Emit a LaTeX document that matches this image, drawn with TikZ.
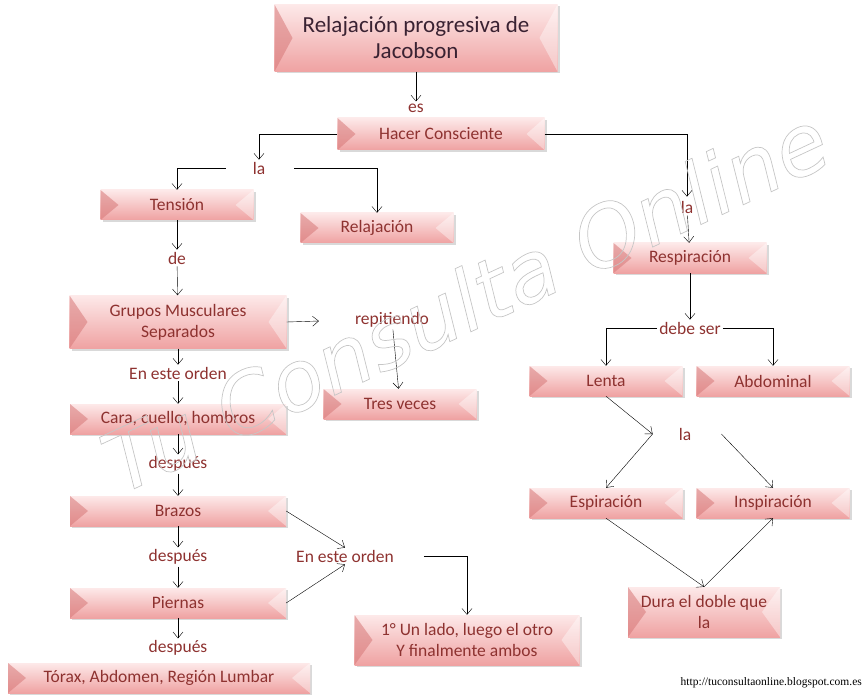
\documentclass[tikz,border=0pt]{standalone}
\usepackage{fontspec}
\newfontfamily\boxfont{Carlito}
\newfontfamily\urlfont{Liberation Serif}
\newfontfamily\wmfont{DejaVu Sans}
\usetikzlibrary{shadows,arrows.meta}
\definecolor{textred}{HTML}{8E3230}
\definecolor{titletext}{HTML}{3A2232}
\definecolor{boxtop}{HTML}{FDE9E9}
\definecolor{boxbot}{HTML}{EFA2A2}
\definecolor{bevel}{HTML}{D77878}
\newcommand{\outlined}[1]{\special{pdf:literal direct 1 Tr 0.7 w}#1\special{pdf:literal direct 0 Tr}}
\tikzset{
  cbox/.style={top color=boxtop, bottom color=boxbot, minimum width=153pt, minimum height=30pt,
    inner sep=2pt, align=center, text=textred, font=\boxfont\fontsize{17.5}{21}\selectfont,
    drop shadow={shadow xshift=2pt, shadow yshift=-2pt, opacity=.3},
    path picture={
      \fill[bevel,opacity=.55] (path picture bounding box.north west) -- ([xshift=18pt]path picture bounding box.west) -- (path picture bounding box.south west) -- cycle;
      \fill[white,opacity=.4] (path picture bounding box.north east) -- ([xshift=-18pt]path picture bounding box.east) -- (path picture bounding box.south east) -- cycle;}},
  lbl/.style={text=textred, font=\boxfont\fontsize{17.5}{21}\selectfont, inner sep=2pt},
  link/.style={->, thin},
}
\begin{document}
\begin{tikzpicture}[x=1pt, y=-1pt, >={Straight Barb[length=6pt,width=10pt]}]
  \useasboundingbox (0,0) rectangle (863,698);

  % boxes
  \node[cbox, minimum width=283pt, minimum height=67pt, text=titletext, font=\boxfont\fontsize{23}{26}\selectfont] (title) at (416,38) {Relajación progresiva de\\Jacobson};
  \node[cbox, minimum width=207pt, minimum height=32pt] (hacer) at (441,134) {Hacer Consciente};
  \node[cbox] (tension) at (177,205) {Tensión};
  \node[cbox] (relaj) at (377,228) {Relajación};
  \node[cbox, minimum width=217pt, minimum height=53pt] (grupos) at (178,322) {Grupos Musculares\\Separados};
  \node[cbox, minimum width=216pt] (cara) at (178,419) {Cara, cuello, hombros};
  \node[cbox, minimum width=216pt] (brazos) at (178,511) {Brazos};
  \node[cbox, minimum width=216pt] (piernas) at (178,603) {Piernas};
  \node[cbox, minimum width=302pt] (torax) at (159,678) {Tórax, Abdomen, Región Lumbar};
  \node[cbox] (tres) at (400,404) {Tres veces};
  \node[cbox, minimum width=225pt, minimum height=50pt] (uno) at (467,640) {1° Un lado, luego el otro\\Y finalmente ambos};
  \node[cbox] (resp) at (690,258) {Respiración};
  \node[cbox] (lenta) at (606,381) {Lenta};
  \node[cbox] (abdom) at (773,381) {Abdominal};
  \node[cbox] (espir) at (606,503) {Espiración};
  \node[cbox] (inspir) at (773,503) {Inspiración};
  \node[cbox, minimum width=152pt, minimum height=50pt] (dura) at (704,612) {Dura el doble que\\la};

  % labels
  \node[lbl] (es) at (416,108) {es};
  \node[lbl] (la1) at (259,168) {la};
  \node[lbl] (la2) at (687,207) {la};
  \node[lbl] (de) at (177,258) {de};
  \node[lbl] (rep) at (392,320) {repitiendo};
  \node[lbl] (orden1) at (178,373) {En este orden};
  \node[lbl] (desp1) at (178,464) {después};
  \node[lbl] (desp2) at (178,557) {después};
  \node[lbl] (desp3) at (178,648) {después};
  \node[lbl] (orden2) at (345,556) {En este orden};
  \node[lbl] (debe) at (690,328) {debe ser};
  \node[lbl] (la3) at (685,434) {la};
  \coordinate (jl) at ([xshift=-24pt]la3.west);
  \coordinate (jr) at ([xshift=28pt]la3.east);

  % connectors
  \draw[link] (title) -- (es);
  \draw[link] (hacer.west) -| (la1.north);
  \draw[link, shorten >=2pt] (hacer.east) -| (la2.north);
  \draw[link, shorten <=25pt] (la1.west) -| (tension.north);
  \draw[link, shorten <=27pt] (la1.east) -| (relaj.north);
  \draw[link] (tension) -- (de);
  \draw[link] (de) -- (grupos);
  \draw[link] (grupos) -- (orden1);
  \draw[link] (orden1) -- (cara);
  \draw[link] (cara) -- (desp1);
  \draw[link] (desp1) -- (brazos);
  \draw[link] (brazos) -- (desp2);
  \draw[link] (desp2) -- (piernas);
  \draw[link] (piernas) -- (desp3);
  \draw[link, shorten >=34pt] (grupos.east) -- (rep.west);
  \draw[link] (rep) -- (tres);
  \draw[link] (brazos.east) -- (orden2.north);
  \draw[link] (piernas.east) -- (orden2.south);
  \draw[link, shorten <=28pt] (orden2.east) -| (uno.north);
  \draw[link] (la2) -- (resp);
  \draw[link] (resp) -- (debe);
  \draw[link] (debe.west) -| (lenta.north);
  \draw[link] (debe.east) -| (abdom.north);
  \draw[link] (lenta.south) -- (jl);
  \draw[link] (jl) -- (espir.north);
  \draw[link] (jr) -- (inspir.north);
  \draw[link] (espir.south) -- (dura.north);
  \draw[link] (dura.north) -- (inspir.south);

  \node[anchor=east, inner sep=0pt, font=\urlfont\fontsize{11.5}{13}\selectfont] (url) at (862,683) {http://tuconsultaonline.blogspot.com.es};

  % watermark
  \node[rotate=25, text=gray!45, font=\wmfont\itshape\fontsize{84}{84}\selectfont] (wm) at (465,300) {\outlined{Tu Consulta Online}};
\end{tikzpicture}
\end{document}
